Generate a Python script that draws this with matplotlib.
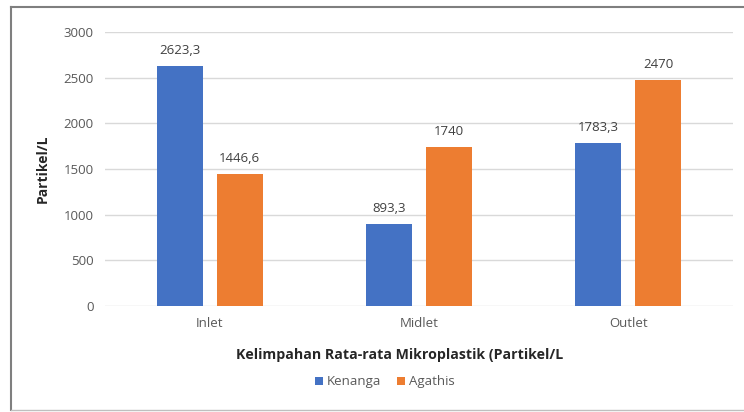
import numpy as np
import matplotlib.pyplot as plt
from matplotlib.lines import Line2D

plt.rcParams['font.family'] = ['Open Sans', 'DejaVu Sans']

lokasi = ["Inlet", "Midlet", "Outlet"]
kenanga = [2623.3, 893.3, 1783.3]
agathis = [1446.6, 1740, 2470]
label_kenanga = ["2623,3", "893,3", "1783,3"]
label_agathis = ["1446,6", "1740", "2470"]

biru = "#4472C4"
oranye = "#ED7D31"

fig = plt.figure(figsize=(7.44, 4.12), dpi=100)
ax = fig.add_axes([105/744, 1 - 306/412, (733 - 105)/744, (306 - 32)/412])

x = np.arange(len(lokasi))
w = 0.22
off = 0.143
b1 = ax.bar(x - off, kenanga, w, color=biru, label="Kenanga", zorder=3)
b2 = ax.bar(x + off, agathis, w, color=oranye, label="Agathis", zorder=3)

for bars, labs in ((b1, label_kenanga), (b2, label_agathis)):
    for b, t in zip(bars, labs):
        ax.text(b.get_x() + b.get_width()/2, b.get_height() + 100, t,
                ha="center", va="bottom", fontsize=9.5, color="#404040")

ax.set_xlim(-0.5, 2.5)
ax.set_ylim(0, 3000)
ax.set_yticks(range(0, 3001, 500))
ax.set_xticks(x)
ax.set_xticklabels(lokasi)
ax.tick_params(length=0, labelsize=9.5, colors="#595959", pad=8)
ax.grid(axis="y", color="#d9d9d9", linewidth=1, zorder=0)
for s in ax.spines.values():
    s.set_visible(False)

ax.set_ylabel("Partikel/L", fontsize=10, fontweight="bold", color="#262626", labelpad=10)

fig.text(400/744, 1 - 355/412, "Kelimpahan Rata-rata Mikroplastik (Partikel/L",
         ha="center", va="center", fontsize=10.2, fontweight="bold", color="#262626")

fig.legend(handles=[b1, b2], loc="center", bbox_to_anchor=(385/744, 1 - 382/412),
           ncol=2, frameon=False, fontsize=9.5, labelcolor="#595959",
           handlelength=0.6, handleheight=0.6, handletextpad=0.3, columnspacing=1.2)

# frame around the chart
grey = "#7f7f7f"
fig.add_artist(Line2D([11/744, 1], [1 - 7/412, 1 - 7/412], color=grey, lw=1.5, transform=fig.transFigure))
fig.add_artist(Line2D([11/744, 11/744], [1 - 7/412, 1 - 410/412], color=grey, lw=1.5, transform=fig.transFigure))
fig.add_artist(Line2D([11/744, 1], [1 - 410/412, 1 - 410/412], color="#bfbfbf", lw=1, transform=fig.transFigure))

fig.savefig("out.png", dpi=100, facecolor="white")
